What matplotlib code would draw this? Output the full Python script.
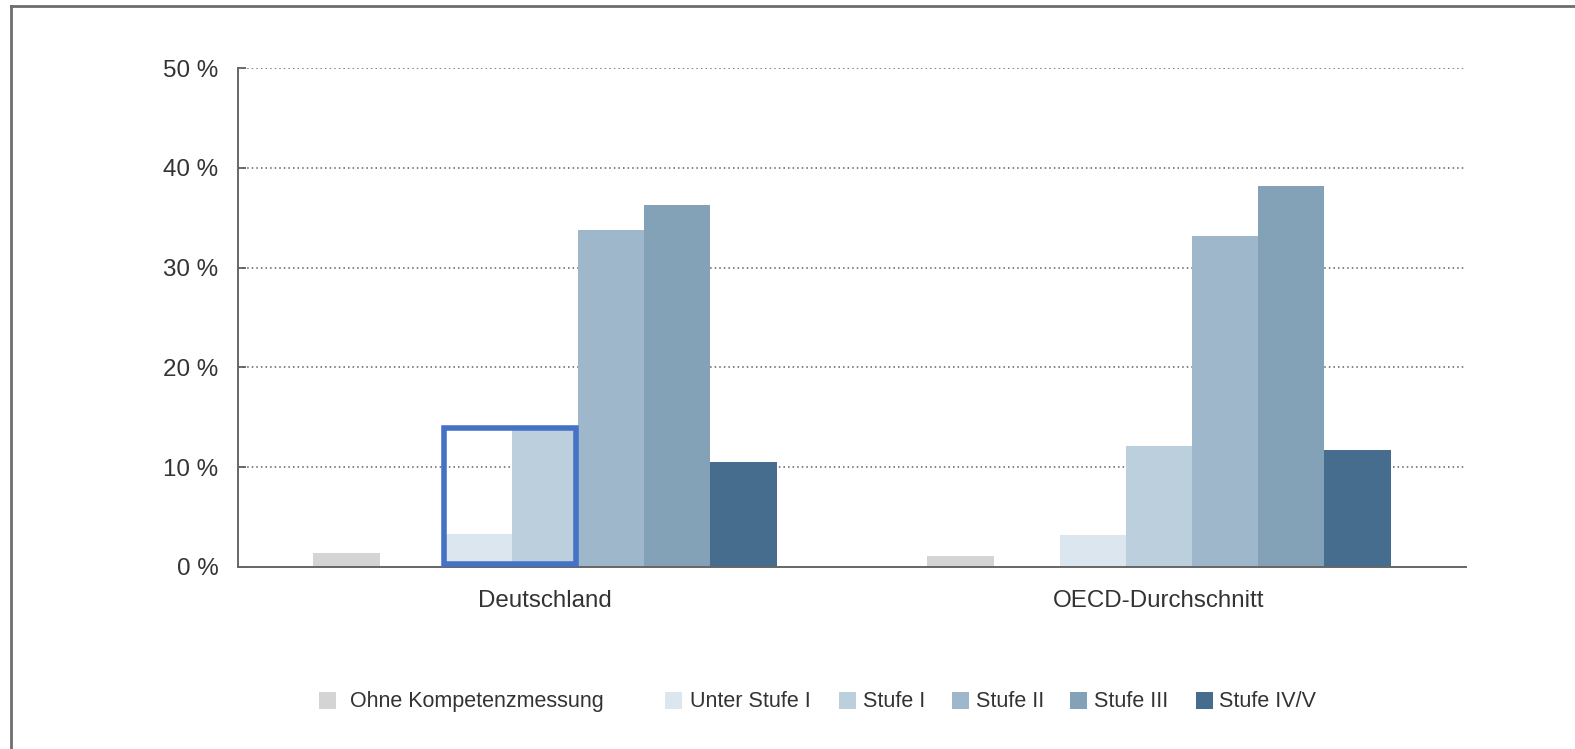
import matplotlib
matplotlib.use("Agg")
import matplotlib.pyplot as plt
from matplotlib.patches import Rectangle
from matplotlib.lines import Line2D
import numpy as np

# Data: share of students per proficiency level (percent)
categories = ["Deutschland", "OECD-Durchschnitt"]
levels = ["Ohne Kompetenzmessung", "Unter Stufe I", "Stufe I",
          "Stufe II", "Stufe III", "Stufe IV/V"]
deutschland = [1.4, 3.3, 13.7, 33.8, 36.3, 10.5]
oecd = [1.1, 3.2, 12.1, 33.2, 38.2, 11.7]
y_ticks = [0, 10, 20, 30, 40, 50]
y_tick_labels = ["0 %", "10 %", "20 %", "30 %", "40 %", "50 %"]

colors = ["#d4d4d4", "#dce6ee", "#bccfdd", "#9fb7cb", "#83a2b8", "#466d8d"]
slots = [0, 2, 3, 4, 5, 6]   # slot 1 stays empty
bar_w = 0.1078

plt.rcParams["font.family"] = ["Liberation Sans", "DejaVu Sans"]
W, H = 1575, 749
fig = plt.figure(figsize=(W / 100, H / 100), dpi=100)
ax = fig.add_axes([238 / W, 1 - 566.7 / H, (1466 - 238) / W, (566.7 - 68.3) / H])

x = np.arange(len(categories))
values = np.array([deutschland, oecd]).T
for k, (lvl, col, s) in enumerate(zip(levels, colors, slots)):
    ax.bar(x + (s - 3) * bar_w, values[k], width=bar_w, color=col,
           edgecolor="none", zorder=2, label=lvl)

# highlight around the two lowest levels for Deutschland
x0 = x[0] + (slots[1] - 3) * bar_w - bar_w / 2
x1 = x[0] + (slots[2] - 3) * bar_w + bar_w / 2
ax.add_patch(Rectangle((x0 - 0.003, 0.25), x1 - x0, 13.7,
                       fill=False, edgecolor="#4472c4", linewidth=4.0,
                       zorder=5, clip_on=False))

ax.set_xlim(-0.5, 1.5)
ax.set_ylim(0, 50)
ax.set_yticks(y_ticks)
ax.set_yticklabels(y_tick_labels)
ax.set_xticks(x)
ax.set_xticklabels(categories)
ax.tick_params(axis="y", direction="in", length=5.5, width=1.2, color="#555555",
               pad=14, labelsize=17.4, labelcolor="#333333")
ax.tick_params(axis="x", length=0, pad=17, labelsize=17.4, labelcolor="#333333")
ax.yaxis.grid(True, linestyle=(0, (1, 2)), color="#5f5f5f", linewidth=1.1, zorder=0)
ax.set_axisbelow(True)
for side in ("top", "right"):
    ax.spines[side].set_visible(False)
for side in ("left", "bottom"):
    ax.spines[side].set_color("#666666")
    ax.spines[side].set_linewidth(1.4)

# legend laid out in pixel positions
sq = 17
sq_left = [319, 665, 839, 952, 1070, 1196]
txt_left = [350, 690, 863, 976, 1094, 1219]
yc = 700.5
for lvl, col, sx, tx in zip(levels, colors, sq_left, txt_left):
    fig.patches.append(Rectangle((sx / W, 1 - (yc + sq / 2) / H), sq / W, sq / H,
                                 transform=fig.transFigure, facecolor=col,
                                 edgecolor="none"))
    fig.text(tx / W, 1 - (yc + 1) / H, lvl, fontsize=15.5, color="#333333",
             ha="left", va="center")

# outer frame (top and left edges)
fig.lines.append(Line2D([10.8 / W, 10.8 / W], [0, 1 - 6 / H], transform=fig.transFigure,
                        color="#6e6e6e", linewidth=2.0))
fig.lines.append(Line2D([10.8 / W, 1], [1 - 6 / H, 1 - 6 / H], transform=fig.transFigure,
                        color="#6e6e6e", linewidth=2.0))

fig.savefig("out.png", dpi=100, facecolor="white")
